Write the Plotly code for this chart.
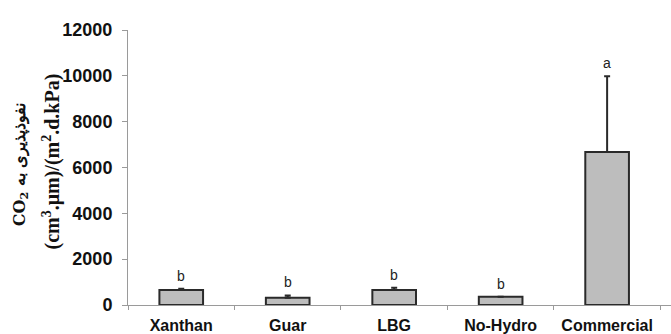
import plotly.graph_objects as go

categories = ["Xanthan", "Guar", "LBG", "No-Hydro", "Commercial"]
values = [650, 320, 650, 360, 6680]
errors = [60, 100, 100, 0, 3300]
letters = ["b", "b", "b", "b", "a"]
y_ticks = [0, 2000, 4000, 6000, 8000, 10000, 12000]
y_title_1 = "CO<sub>2</sub> نفوذپذیری به"
y_title_2 = "(cm<sup>3</sup>.μm)/(m<sup>2</sup>.d.kPa)"

fig = go.Figure()
fig.add_trace(go.Bar(
    x=categories, y=values,
    width=0.41,
    marker=dict(color="#bdbdbd", line=dict(color="#2a2a2a", width=2)),
    error_y=dict(type="data", symmetric=False, array=errors, arrayminus=[0]*5,
                 color="#2a2a2a", thickness=2, width=3),
))

for c, v, e, l in zip(categories, values, errors, letters):
    fig.add_annotation(x=c, y=v + e, text=l, showarrow=False, yanchor="bottom", yshift=3,
                       font=dict(family="Liberation Sans", size=14, color="#222"))

fig.add_annotation(xref="paper", yref="paper", x=-128/543, y=0.51, xanchor="left",
                   text=y_title_1, textangle=-90, showarrow=False, xshift=8,
                   font=dict(family="DejaVu Serif", size=16, color="#111", weight="bold"))
fig.add_annotation(xref="paper", yref="paper", x=-128/543, y=0.52, xanchor="left",
                   text=y_title_2, textangle=-90, showarrow=False, xshift=36,
                   font=dict(family="Liberation Serif", size=20, color="#111", weight="bold"))

fig.update_layout(
    width=671, height=334,
    margin=dict(l=128, r=0, t=30, b=29),
    plot_bgcolor="white", paper_bgcolor="white",
    showlegend=False,
    xaxis=dict(
        type="category", range=[-0.5, 4.6],
        showline=True, linecolor="#9a9a9a", linewidth=1,
        ticks="outside", tickson="boundaries", ticklen=4, tickcolor="#9a9a9a",
        tickfont=dict(family="Liberation Sans", size=16, color="#111", weight="bold"),
        ticklabelstandoff=6,
        showgrid=False,
    ),
    yaxis=dict(
        range=[0, 12000], tickvals=y_ticks,
        showline=True, linecolor="#9a9a9a", linewidth=1,
        ticks="outside", ticklen=5, tickcolor="#9a9a9a",
        tickfont=dict(family="Liberation Sans", size=18, color="#111", weight="bold"),
        ticklabelstandoff=6,
        tickformat="d",
        showgrid=False, zeroline=False,
    ),
)
fig.write_html("out.html")
